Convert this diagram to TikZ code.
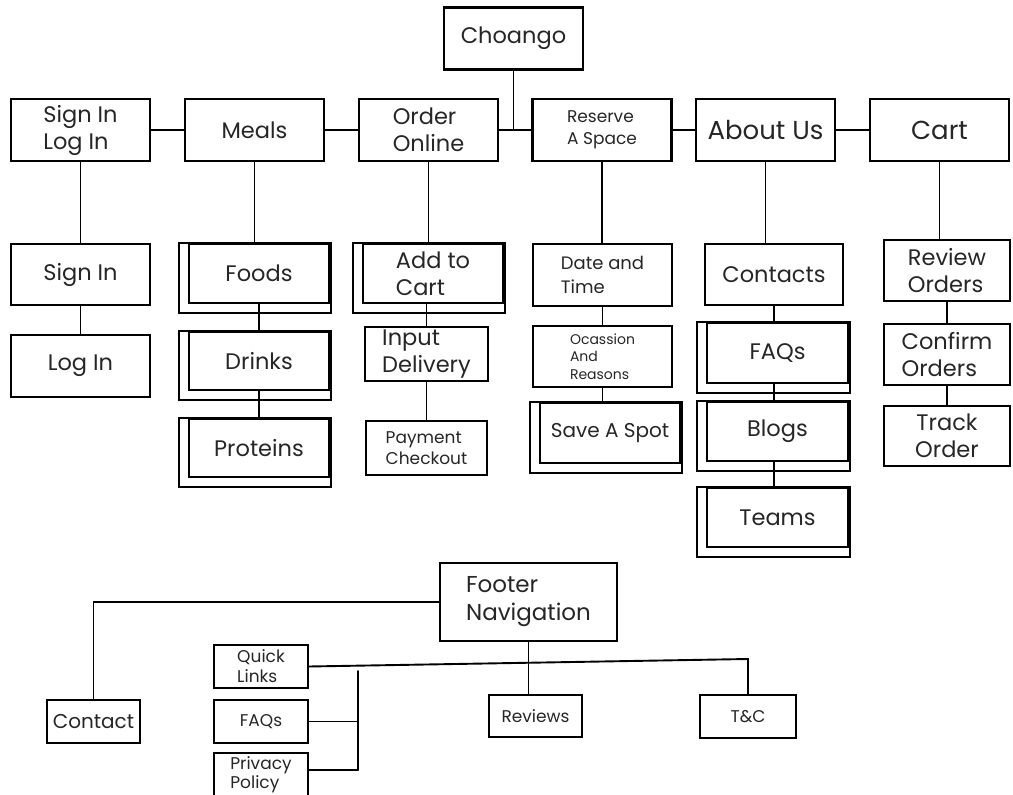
\documentclass[tikz,border=0pt]{standalone}
\usepackage{fontspec}
\setmainfont{Poppins}
\usetikzlibrary{positioning}
\tikzset{
  box/.style={draw, line width=2.4pt, inner sep=0pt, align=left, text=black!85,
    minimum width=139pt, minimum height=62pt, font=\fontsize{22.5}{27}\selectfont},
  menubox/.style={box, minimum width=140pt, minimum height=59pt},
  footbox/.style={box, line width=2pt, minimum width=94pt, minimum height=43pt,
    font=\fontsize{17}{20}\selectfont},
  frame/.style={line width=1.5pt},
  link/.style={line width=1.9pt},
}
\begin{document}
\begin{tikzpicture}[x=1pt, y=-1pt, line cap=round]
  \useasboundingbox (0,0) rectangle (1013,795);
  %--- Top level
    \node[box] (choango) at (513.5,38.5) {Choango};
    \node[box] (signlog) at (80.5,130) {Sign In\\Log In};
    \node[box] (meals) at (254.5,130) {Meals};
    \node[box] (order) at (428.5,130) {Order\\Online};
    \node[box, font=\fontsize{17}{22}\selectfont] (reserve) at (602,130) {Reserve\\A Space};
    \node[box, font=\fontsize{26}{30}\selectfont] (about) at (765.5,130) {About Us};
    \node[box, font=\fontsize{26}{30}\selectfont] (cart) at (939.5,130) {Cart};
    \draw[link] (signlog) -- (meals);
    \draw[link] (meals) -- (order);
    \draw[link] (order) -- (reserve);
    \draw[link] (choango) -- (choango |- order.east);
    \draw[link] (reserve) -- (about);
    \draw[link] (about) -- (cart);
  %--- Sign In / Log In
    \node[box, minimum height=61pt] (signin) at (80.5,274.5) {Sign In};
    \node[box] (login) at (80.5,366) {Log In};
    \draw[link] (signlog) -- (signin);
    \draw[link] (signin) -- (login);
  %--- Meals
    \node[menubox] (foods) at (259,273.5) {Foods};
    \node[menubox, minimum height=58pt] (drinks) at (259,361) {Drinks};
    \node[menubox, minimum height=58pt] (proteins) at (259,448) {Proteins};
    \draw[link] (meals) -- (meals |- foods.north);
    \draw[link] (foods) -- (drinks);
    \draw[link] (drinks) -- (proteins);
  %--- Order Online
    \node[menubox] (addcart) at (433,273.5) {Add to\\Cart};
    \node[box, minimum width=123pt, minimum height=54pt] (input) at (426.5,354) {Input\\Delivery};
    \node[box, minimum width=121pt, minimum height=54pt, font=\fontsize{17}{21}\selectfont] (payment) at (426.5,448) {Payment\\Checkout};
    \draw[link] (order) -- (order |- addcart.north);
    \draw[link] (input |- addcart.south) -- (input);
    \draw[link] (input) -- (payment);
  %--- Reserve A Space
    \node[box, font=\fontsize{18}{24}\selectfont] (datetime) at (602.5,275) {Date and\\Time};
    \node[box, minimum height=61pt, font=\fontsize{14}{17.5}\selectfont] (occasion) at (602.5,356.5) {Ocassion\\And\\Reasons};
    \node[menubox, minimum height=60pt, font=\fontsize{20}{25}\selectfont] (savespot) at (610,433) {Save A Spot};
    \draw[link] (reserve) -- (reserve |- datetime.north);
    \draw[link] (datetime) -- (occasion);
    \draw[link] (occasion) -- (occasion |- savespot.north);
  %--- About Us
    \node[box, minimum width=138pt, minimum height=61pt] (contacts) at (774,274.5) {Contacts};
    \node[menubox, minimum width=141pt, minimum height=60pt] (faqs) at (777.5,353) {FAQs};
    \node[menubox, minimum width=141pt] (blogs) at (777.5,431.5) {Blogs};
    \node[menubox, minimum width=141pt] (teams) at (777.5,517.5) {Teams};
    \draw[link] (about) -- (about |- contacts.north);
    \draw[link] (contacts) -- (contacts |- faqs.north);
    \draw[link] (contacts |- faqs.south) -- (contacts |- blogs.north);
    \draw[link] (contacts |- blogs.south) -- (contacts |- teams.north);
  %--- Cart
    \node[box, minimum width=126pt, minimum height=61pt] (review) at (947,270.5) {Review\\Orders};
    \node[box, minimum width=126pt, minimum height=61pt] (confirm) at (947,354.5) {Confirm\\Orders};
    \node[box, minimum width=126pt, minimum height=60pt, align=center] (track) at (947,436) {Track\\Order};
    \draw[link] (cart) -- (cart |- review.north);
    \draw[link] (review) -- (confirm);
    \draw[link] (confirm) -- (track);
  %--- second frame round the menu boxes
    \foreach \n in {foods, drinks, proteins, addcart, savespot, faqs, blogs, teams}
      \draw[frame] ([xshift=-9pt]\n.north west) rectangle ([xshift=1pt, yshift=-9pt]\n.south east);
  %--- Footer
    \node[box, minimum width=177pt, minimum height=78pt, font=\fontsize{23}{28}\selectfont] (footer) at (528.5,602) {Footer\\Navigation};
    \node[footbox, minimum width=93pt, font=\fontsize{20}{24}\selectfont] (contact) at (93.5,721.5) {Contact};
    \node[footbox] (quick) at (261,666.5) {Quick\\Links};
    \node[footbox] (ffaqs) at (261,721.5) {FAQs};
    \node[footbox, minimum height=44pt, font=\fontsize{17}{19}\selectfont] (privacy) at (261,775) {Privacy\\Policy};
    \node[footbox, minimum width=93pt, minimum height=42pt] (reviews) at (535.5,716) {Reviews};
    \node[footbox, minimum width=96pt] (tandc) at (748,716.5) {T\&C};
    \coordinate (tcturn) at (748,659);
    \coordinate (qjoin) at (358,671);
    \coordinate (qend) at (358,770);
    \draw[link] (footer.west) -| (contact);
    \draw[link] (footer) -- (footer |- reviews.north);
    \draw[link] (quick.east) -- (tcturn) -- (tandc);
    \draw[link] (qjoin) -- (qend);
    \draw[link] (ffaqs.east) -- (qjoin |- ffaqs.east);
    \draw[link] (privacy.east |- qend) -- (qend);
\end{tikzpicture}
\end{document}
